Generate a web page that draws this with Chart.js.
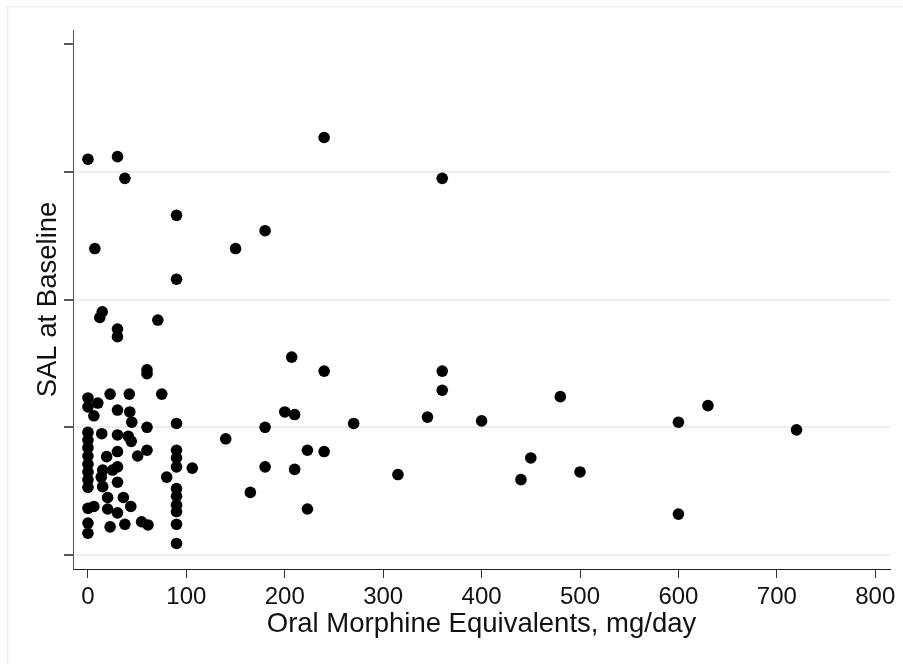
<!DOCTYPE html>
<html>
<head>
<meta charset="utf-8">
<script src="https://cdn.jsdelivr.net/npm/chart.js@4"></script>
<style>
  html, body { margin: 0; padding: 0; background: #ffffff; }
  #wrap { position: relative; width: 903px; height: 664px; }
</style>
</head>
<body>
<div id="wrap"><canvas id="scatter-chart"></canvas></div>
<script>
// oral morphine equivalents (mg/day) and SAL at baseline, one entry per patient
const omeValues = [
  0, 30, 37.5, 240, 360, 90, 150, 180, 7, 90,
  14.5, 12, 30, 30, 71, 360, 360, 345, 400, 480,
  600, 630, 720, 315, 450, 440, 500, 600, 207, 240,
  200, 210, 180, 270, 140, 223, 240, 106, 180, 210,
  165, 223, 60, 60, 0, 0, 10, 22.5, 42, 75,
  6, 30, 42.5, 44.5, 60, 90, 14, 30, 41, 44,
  30, 60, 50.5, 19, 90, 90, 90, 80, 15, 25,
  30, 13.5, 30, 15, 90, 90, 90, 90, 90, 90,
  20, 20, 36, 43.5, 6, 0, 30, 0, 0, 22.5,
  37.5, 54.5, 61, 0, 0, 0, 0, 0, 0, 0, 0
];
const salValues = [
  31.0, 31.2, 29.5, 32.7, 29.5, 26.6, 24.0, 25.4, 24.0, 21.6,
  19.05, 18.6, 17.7, 17.1, 18.4, 14.4, 12.9, 10.8, 10.5, 12.4,
  10.4, 11.7, 9.8, 6.3, 7.6, 5.9, 6.5, 3.2, 15.5, 14.4,
  11.2, 11.0, 10.0, 10.3, 9.1, 8.2, 8.1, 6.8, 6.9, 6.7,
  4.9, 3.6, 14.5, 14.2, 12.3, 11.6, 11.9, 12.6, 12.6, 12.6,
  10.9, 11.35, 11.2, 10.4, 10.0, 10.3, 9.5, 9.4, 9.3, 8.9,
  8.1, 8.2, 7.75, 7.7, 8.2, 7.6, 6.9, 6.1, 6.65, 6.65,
  6.9, 6.1, 5.7, 5.35, 5.2, 4.6, 3.9, 3.4, 2.4, 0.9,
  4.5, 3.6, 4.5, 3.8, 3.8, 3.65, 3.3, 2.5, 1.7, 2.2,
  2.4, 2.6, 2.35, 9.6, 9.0, 8.4, 7.75, 7.1, 6.5, 5.9, 5.3
];
const xTicks = [0, 100, 200, 300, 400, 500, 600, 700, 800];
const yTicks = [0, 10, 20, 30, 40];

const points = omeValues.map((x, i) => ({ x: x, y: salValues[i] }));

// light frame around the graph region, like the stata export
const framePlugin = {
  id: "frame",
  beforeDraw(chart) {
    const ctx = chart.ctx;
    ctx.save();
    ctx.fillStyle = "#ffffff";
    ctx.fillRect(0, 0, chart.width, chart.height);
    ctx.strokeStyle = "#e6eff2";
    ctx.lineWidth = 1.5;
    ctx.beginPath();
    ctx.moveTo(7.5, chart.height);
    ctx.lineTo(7.5, 6.8);
    ctx.lineTo(chart.width, 6.8);
    ctx.stroke();
    ctx.restore();
  },
};

const ctx = document.getElementById("scatter-chart").getContext("2d");
new Chart(ctx, {
  type: "scatter",
  data: {
    datasets: [
      {
        data: points,
        pointRadius: 5.8,
        pointHoverRadius: 5.8,
        pointBackgroundColor: "#000000",
        pointBorderWidth: 0,
      },
    ],
  },
  options: {
    responsive: true,
    maintainAspectRatio: false,
    animation: false,
    layout: { padding: { top: 30, right: 13, left: 0, bottom: 0 } },
    plugins: {
      legend: { display: false },
      tooltip: { enabled: false },
    },
    scales: {
      x: {
        type: "linear",
        min: -15.2,
        max: 815,
        afterBuildTicks: (scale) => {
          scale.ticks = xTicks.map((v) => ({ value: v }));
        },
        afterFit: (scale) => {
          scale.height = 95;
        },
        ticks: {
          color: "#111111",
          padding: 5,
          maxRotation: 0,
          autoSkip: false,
          font: { family: "Liberation Sans, Arial", size: 24 },
        },
        grid: {
          drawOnChartArea: false,
          tickLength: 9,
          tickColor: "#333333",
          lineWidth: 1,
        },
        border: { display: true, color: "#222222", width: 1 },
        title: {
          display: true,
          text: "Oral Morphine Equivalents, mg/day",
          color: "#111111",
          padding: { top: 0, bottom: 23 },
          font: { family: "Liberation Sans, Arial", size: 27.5 },
        },
      },
      y: {
        type: "linear",
        min: -1.1,
        max: 41.12,
        afterBuildTicks: (scale) => {
          scale.ticks = yTicks.map((v) => ({ value: v }));
        },
        afterFit: (scale) => {
          scale.width = 73;
        },
        ticks: { display: false },
        grid: {
          tickLength: 9,
          tickColor: "#555555",
          lineWidth: 2,
          color: (c) => (c.tick && c.tick.value === 40 ? "rgba(0,0,0,0)" : "#e6eff1"),
        },
        border: { display: true, color: "#555555", width: 1 },
        title: {
          display: true,
          text: "SAL at Baseline",
          color: "#111111",
          padding: { top: 32, bottom: 0 },
          font: { family: "Liberation Sans, Arial", size: 27.5 },
        },
      },
    },
  },
  plugins: [framePlugin],
});
</script>
</body>
</html>
